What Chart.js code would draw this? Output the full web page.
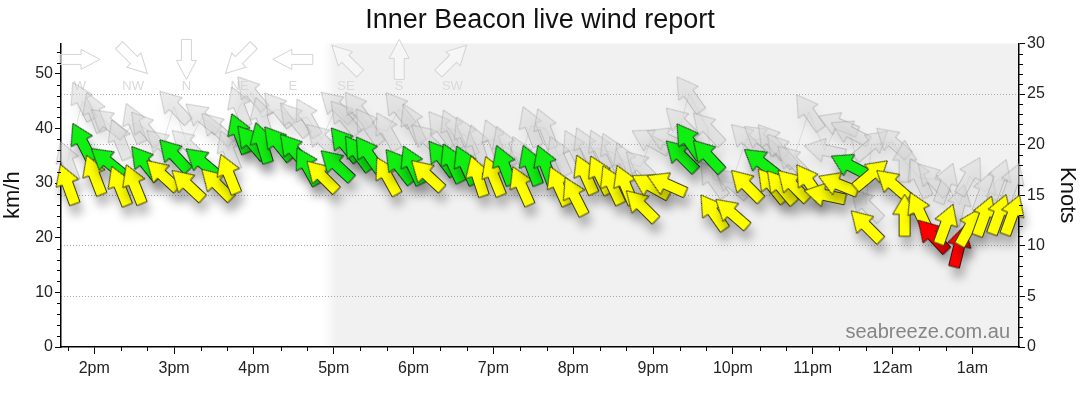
<!DOCTYPE html>
<html>
<head>
<meta charset="utf-8">
<title>Inner Beacon live wind report</title>
<script src="https://cdn.jsdelivr.net/npm/chart.js@4.4.1/dist/chart.umd.min.js"></script>
<style>
  html, body { margin: 0; padding: 0; background: #fff; }
  #wind-chart { display: block; }
</style>
</head>
<body>
<canvas id="wind-chart" width="1080" height="414"></canvas>
<script>
// readings roughly every 10 min, times after midnight roll into the next day
const times = ['13:40','13:51','14:00','14:10','14:19','14:30','14:38','14:51','15:00','15:10','15:21','15:32',
  '15:41','15:49','15:58','16:06','16:18','16:30','16:40','16:51','17:02','17:08','17:18','17:26',
  '17:40','17:49','17:59','18:10','18:21','18:29','18:39','18:48','19:00','19:08','19:21','19:28',
  '19:39','19:49','20:01','20:09','20:20','20:29','20:39','20:51','20:58','21:10','21:21','21:27',
  '21:41','21:45','21:59','22:10','22:21','22:29','22:36','22:45','22:57','23:09','23:19','23:28',
  '23:40','23:44','00:00','00:09','00:20','00:30','00:40','00:50','00:58','01:09','01:20','01:30'];

// average wind, km/h
const windKmh = [29.8,37.5,31.5,33.9,29.5,29.8,33.7,31.5,35.1,29.7,33.8,29.8,
  31.7,39.1,37.5,37.4,37.3,36.0,33.1,31.3,33.3,37.1,35.5,35.3,
  31.3,33.1,33.3,31.5,34.6,33.7,33.3,31.3,31.3,33.3,29.5,33.3,
  33.3,29.5,27.6,31.6,31.5,29.7,29.7,25.9,29.5,29.8,35.0,37.7,
  35.0,24.7,24.5,29.6,33.8,29.6,29.3,29.6,30.2,27.8,29.8,33.2,
  22.2,31.6,29.8,24.1,24.8,20.4,22.5,18.4,22.0,24.0,24.3,24.2];

// gusts, km/h
const gustKmh = [34,45,43,41,38,41,40,37,44,37,42,40,
  36,44,46.5,42,43.5,41.7,42,38,44,42,43.5,40.4,
  39.5,43.5,41,38,40,39.9,38.6,37,38,36.8,35,40.4,
  40,35,36.2,36.6,36.2,35.6,33.8,33,37.7,38,41,46.3,
  40,30.7,30,38,38,37.7,36,34,43,36,40.8,39.3,
  26,37,37.5,34,31,30.7,30,26,31.3,28.4,30.7,30];

// direction the wind comes from, degrees
const dirFrom = [160,153,159,129,158,158,141,133,137,133,130,135,
  158,159,140,163,141,140,151,135,133,141,144,145,
  151,142,155,133,143,155,155,162,158,159,156,159,
  159,156,153,156,154,155,157,135,119,114,135,145,
  137,145,131,135,128,141,140,135,145,102,112,117,
  135,230,131,180,155,137,200,194,209,200,200,200];

const hourTicks = [14,15,16,17,18,19,20,21,22,23,24,25];
const hourLabels = ['2pm','3pm','4pm','5pm','6pm','7pm','8pm','9pm','10pm','11pm','12am','1am'];

const compassLabels = ['W','NW','N','NE','E','SE','S','SW'];
const compassFrom = [270,315,0,45,90,135,180,225];

const KMH_PER_KNOT = 1.852;
const X_MIN = 13 + 35 / 60;
const X_MAX = 25 + 35 / 60;
const NIGHT_FROM = 17;
const FONT = "'Liberation Sans', Arial, sans-serif";

const toHours = (t) => {
  const [h, m] = t.split(':').map(Number);
  return (h < 12 ? h + 24 : h) + m / 60;
};

// arrow points where the wind blows to
const pointTo = (from) => (from + 180) % 360;

const traceArrow = (g, big) => {
  const hw = big ? 12 : 10;
  const sw = big ? 5.5 : 5;
  const l = big ? 21 : 20;
  g.beginPath();
  g.moveTo(0, -l);
  g.lineTo(hw, -1);
  g.lineTo(sw, -1);
  g.lineTo(sw, l);
  g.lineTo(-sw, l);
  g.lineTo(-sw, -1);
  g.lineTo(-hw, -1);
  g.closePath();
};

const makeArrow = (fill, stroke) => {
  const c = document.createElement('canvas');
  c.width = 52;
  c.height = 52;
  const g = c.getContext('2d');
  g.translate(26, 26);
  traceArrow(g, true);
  g.fillStyle = fill;
  g.fill();
  g.lineWidth = 1;
  g.strokeStyle = stroke;
  g.stroke();
  return c;
};

const arrows = {
  red: makeArrow('#ff0000', '#3a1010'),
  yellow: makeArrow('#ffff00', '#3d3d10'),
  green: makeArrow('#11ee11', '#1e3a1e'),
  gust: makeArrow('rgba(215,215,215,0.5)', 'rgba(150,150,150,0.5)')
};

const arrowColour = (kmh) => {
  const kn = kmh / KMH_PER_KNOT;
  if (kn < 11.5) return 'red';
  if (kn < 17.7) return 'yellow';
  return 'green';
};

const windPoints = times.map((t, i) => ({x: toHours(t), y: windKmh[i]}));
const gustPoints = times.map((t, i) => ({x: toHours(t), y: gustKmh[i]}));

const shadows = {
  wind: 'rgba(0,0,0,0.28)',
  gust: 'rgba(0,0,0,0.10)'
};

// day / night background, behind the grid
const backgroundPlugin = {
  id: 'background',
  beforeDraw(chart) {
    const {ctx, chartArea: a, scales} = chart;
    const x0 = scales.x.getPixelForValue(NIGHT_FROM - 0.13);
    const x1 = scales.x.getPixelForValue(NIGHT_FROM + 0.03);
    const grad = ctx.createLinearGradient(x0, 0, x1, 0);
    grad.addColorStop(0, '#ffffff');
    grad.addColorStop(1, '#f1f1f1');
    ctx.save();
    ctx.fillStyle = '#ffffff';
    ctx.fillRect(a.left, a.top, a.width, a.height);
    ctx.fillStyle = grad;
    ctx.fillRect(x0, a.top, a.right - x0, a.height);
    ctx.restore();
  }
};

// compass key and watermark
const decorPlugin = {
  id: 'decor',
  beforeDatasetsDraw(chart) {
    const {ctx, chartArea: a} = chart;
    ctx.save();
    compassLabels.forEach((lbl, i) => {
      const cx = a.left + 19 + i * 53.2;
      const cy = a.top + 16;
      ctx.save();
      ctx.translate(cx, cy);
      ctx.rotate(pointTo(compassFrom[i]) * Math.PI / 180);
      traceArrow(ctx, false);
      ctx.fillStyle = 'rgba(255,255,255,0.4)';
      ctx.fill();
      ctx.lineWidth = 1;
      ctx.strokeStyle = '#d4d4d4';
      ctx.stroke();
      ctx.restore();
      ctx.fillStyle = '#dadada';
      ctx.font = '13px ' + FONT;
      ctx.textAlign = 'center';
      ctx.textBaseline = 'middle';
      ctx.fillText(lbl, cx, a.top + 43);
    });
    ctx.fillStyle = '#858585';
    ctx.font = '20px ' + FONT;
    ctx.textAlign = 'right';
    ctx.textBaseline = 'alphabetic';
    ctx.fillText('seabreeze.com.au', a.right - 9, a.bottom - 9);
    ctx.restore();
  },
  beforeDatasetDraw(chart, args) {
    const ctx = chart.ctx;
    const key = chart.data.datasets[args.index].label === 'Gust' ? 'gust' : 'wind';
    ctx.save();
    ctx.shadowColor = shadows[key];
    ctx.shadowBlur = 10;
    ctx.shadowOffsetX = 3;
    ctx.shadowOffsetY = 10;
  },
  afterDatasetDraw(chart) {
    chart.ctx.restore();
  }
};

// minor ticks on all three axes
const minorTicksPlugin = {
  id: 'minorTicks',
  afterDraw(chart) {
    const {ctx, chartArea: a, scales} = chart;
    ctx.save();
    ctx.strokeStyle = '#000';
    ctx.lineWidth = 1;
    ctx.beginPath();
    for (let m = 20; m < 12 * 60; m += 20) {
      const v = 13 + 40 / 60 + (m - 20) / 60;
      if (Math.abs(v - Math.round(v)) < 1e-6 || v > X_MAX) continue;
      const px = Math.round(scales.x.getPixelForValue(v)) + 0.5;
      ctx.moveTo(px, a.bottom);
      ctx.lineTo(px, a.bottom + 4);
    }
    for (let v = 2; v < 55.5; v += 2) {
      if (v % 10 === 0) continue;
      const py = Math.round(scales.y.getPixelForValue(v)) + 0.5;
      ctx.moveTo(a.left, py);
      ctx.lineTo(a.left - 4, py);
    }
    for (let v = 1; v < 30; v += 1) {
      if (v % 5 === 0) continue;
      const py = Math.round(scales.knots.getPixelForValue(v)) + 0.5;
      ctx.moveTo(a.right, py);
      ctx.lineTo(a.right + 4, py);
    }
    ctx.stroke();
    ctx.restore();
  }
};

Chart.defaults.font.family = FONT;
Chart.defaults.color = '#222';

const tickFont = {size: 16};

new Chart(document.getElementById('wind-chart'), {
  type: 'scatter',
  data: {
    datasets: [
      {
        label: 'Wind',
        data: windPoints,
        order: 1,
        clip: false,
        pointRadius: 1,
        pointStyle: (c) => arrows[arrowColour(windKmh[c.dataIndex] || 0)],
        rotation: (c) => pointTo(dirFrom[c.dataIndex] || 0)
      },
      {
        label: 'Gust',
        data: gustPoints,
        order: 2,
        clip: false,
        showLine: true,
        borderColor: 'rgba(150,150,150,0.25)',
        borderWidth: 1,
        pointRadius: 1,
        pointStyle: arrows.gust,
        rotation: (c) => pointTo(dirFrom[c.dataIndex] || 0)
      }
    ]
  },
  options: {
    responsive: false,
    animation: false,
    events: [],
    layout: {padding: 0},
    plugins: {
      legend: {display: false},
      tooltip: {enabled: false},
      title: {
        display: true,
        text: 'Inner Beacon live wind report',
        color: '#111',
        font: {size: 27, weight: 'normal'},
        padding: {top: 4, bottom: 7}
      }
    },
    scales: {
      x: {
        type: 'linear',
        min: X_MIN,
        max: X_MAX,
        afterBuildTicks: (s) => { s.ticks = hourTicks.map((v) => ({value: v})); },
        afterFit: (s) => { s.height = 67; },
        ticks: {
          autoSkip: false,
          maxRotation: 0,
          padding: 5,
          font: tickFont,
          callback: (v) => hourLabels[hourTicks.indexOf(v)]
        },
        grid: {drawOnChartArea: false, tickLength: 7, tickColor: '#000', tickWidth: 1},
        border: {color: '#000', width: 1.5}
      },
      y: {
        position: 'left',
        min: 0,
        max: 30 * KMH_PER_KNOT,
        afterFit: (s) => { s.width = 61; },
        ticks: {stepSize: 10, includeBounds: false, padding: 2, font: tickFont},
        grid: {drawOnChartArea: false, tickLength: 6, tickColor: '#000', tickWidth: 1},
        border: {color: '#000', width: 1.5},
        title: {display: true, text: 'km/h', color: '#111', font: {size: 22}, padding: {top: 0, bottom: 0}}
      },
      knots: {
        position: 'right',
        min: 0,
        max: 30,
        afterFit: (s) => { s.width = 61; },
        ticks: {stepSize: 5, padding: 2, font: tickFont},
        grid: {
          color: (c) => (c.tick && c.tick.value > 0 && c.tick.value < 30) ? '#a8a8a8' : 'rgba(0,0,0,0)',
          lineWidth: 1,
          tickLength: 6,
          tickColor: '#000',
          tickWidth: 1
        },
        border: {color: '#000', width: 1.5, dash: [1, 2]},
        title: {display: true, text: 'Knots', color: '#111', font: {size: 22}, padding: {top: 0, bottom: 0}}
      }
    }
  },
  plugins: [backgroundPlugin, decorPlugin, minorTicksPlugin]
});
</script>
</body>
</html>
